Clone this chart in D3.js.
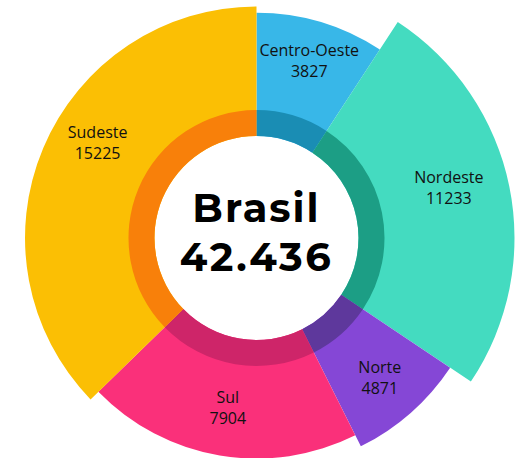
<!DOCTYPE html>
<html lang="pt">
<head>
    <meta charset="UTF-8">
    <script src="https://d3js.org/d3.v7.min.js"></script>
    <title>Brasil</title>
    <style>
        body { margin: 0; background: #fff; }
        svg { display: block; }
    </style>
</head>
<body>
<svg id="chart" width="518" height="458"></svg>
<script>
    // dados
    const regions = ["Centro-Oeste", "Nordeste", "Norte", "Sul", "Sudeste"];
    const totals = [3827, 11233, 4871, 7904, 15225];
    const arcShare = [33.2, 90.6, 29.6, 72.4, 134.2]; // fatia angular
    const reach = [79, 100, 84, 76, 83];             // alcance relativo de cada fatia
    const centerTitle = "Brasil";
    const centerTotal = "42.436";

    // aparência
    const fills = ["#38B7E8", "#44DBC0", "#8547D6", "#FA307A", "#FBBF04"];
    const rings = ["#1A8DB4", "#1C9E85", "#5E389C", "#CE2569", "#F8800A"];
    const labelTurn = [0, -3, 0, 0, 8]; // graus
    const labelK = [0.82, 0.77, 0.8, 0.78, 0.8];
    const cx = 256.5, cy = 238;
    const innerR = 102, ringR = 128, maxR = 258;

    const svg = d3.select("#chart");
    const g = svg.append("g").attr("transform", `translate(${cx},${cy})`);

    const rows = regions.map((r, i) => ({
        name: r, total: totals[i], share: arcShare[i], reach: reach[i], i
    }));

    const rScale = d3.scaleLinear().domain([0, 100]).range([innerR, maxR]);

    const pie = d3.pie().value(d => d.share).sort(null);
    const arcs = pie(rows);

    const outer = d3.arc()
        .innerRadius(innerR)
        .outerRadius(d => rScale(d.data.reach));

    const band = d3.arc().innerRadius(innerR).outerRadius(ringR);

    g.selectAll("path.slice")
        .data(arcs)
        .join("path")
        .attr("class", "slice")
        .attr("d", outer)
        .attr("fill", d => fills[d.data.i]);

    g.selectAll("path.band")
        .data(arcs)
        .join("path")
        .attr("class", "band")
        .attr("d", band)
        .attr("fill", d => rings[d.data.i]);

    // rótulos
    const labels = g.selectAll("text.lbl")
        .data(arcs)
        .join("text")
        .attr("class", "lbl")
        .attr("text-anchor", "middle")
        .attr("font-family", "'Open Sans', 'Noto Sans', sans-serif")
        .attr("font-size", 16)
        .attr("fill", "#111")
        .attr("transform", d => {
            const a = (d.startAngle + d.endAngle) / 2 + labelTurn[d.data.i] * Math.PI / 180;
            const r = rScale(d.data.reach) * labelK[d.data.i];
            return `translate(${r * Math.sin(a)},${-r * Math.cos(a)})`;
        });

    labels.append("tspan").attr("x", 0).attr("y", -5).text(d => d.data.name);
    labels.append("tspan").attr("x", 0).attr("y", 16).text(d => d.data.total);

    // centro
    g.append("text")
        .attr("text-anchor", "middle")
        .attr("y", -16)
        .attr("font-family", "Montserrat, 'DejaVu Sans', sans-serif")
        .attr("font-weight", "bold")
        .attr("font-size", 40)
        .attr("letter-spacing", 2)
        .attr("fill", "#000")
        .text(centerTitle);

    g.append("text")
        .attr("text-anchor", "middle")
        .attr("y", 33)
        .attr("font-family", "Montserrat, 'DejaVu Sans', sans-serif")
        .attr("font-weight", "bold")
        .attr("font-size", 40)
        .attr("letter-spacing", 2.5)
        .attr("fill", "#000")
        .text(centerTotal);
</script>
</body>
</html>
